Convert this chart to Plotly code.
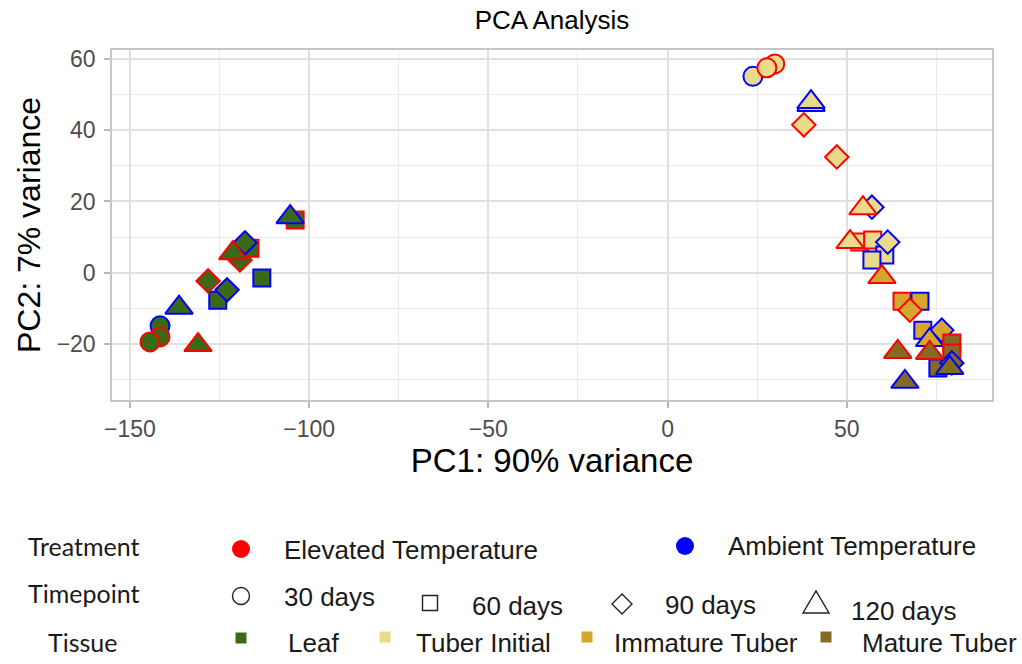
import plotly.graph_objects as go

# ---------------- data ----------------
pc1 = [-141.6, -141.6, -144.4, -103.9, -116.5, -113.2, -125.5, -119.3, -128.2, -117.9, -122.9,
       -121.3, -131.0, -105.3, -136.3,
       23.8, 29.9, 27.7, 53.6, 57.2, 60.6, 57.0, 38.0, 47.2, 57.0, 61.4, 54.5, 50.9, 40.0, 40.0,
       65.4, 70.4, 71.2, 67.6, 76.5, 59.8, 73.1,
       75.4, 79.3, 79.3, 79.3, 64.2, 73.1, 78.7, 66.2]
pc2 = [-14.9, -18.0, -19.4, 14.8, 6.9, -1.5, -7.7, 3.6, -2.3, 8.4, -4.8,
       5.5, -20.3, 15.6, -9.8,
       55.1, 58.6, 57.5, 8.6, 9.2, 5.0, 3.6, 41.5, 32.5, 18.4, 8.6, 18.1, 8.6, 47.1, 47.9,
       -8.0, -8.0, -16.1, -10.5, -16.1, -1.2, -18.9,
       -26.7, -19.7, -22.5, -25.3, -22.2, -22.5, -26.7, -30.6]
treatment = ["Ambient", "Elevated", "Elevated", "Elevated", "Elevated", "Ambient", "Ambient",
             "Elevated", "Elevated", "Ambient", "Ambient", "Elevated", "Elevated", "Ambient", "Ambient",
             "Ambient", "Elevated", "Elevated", "Elevated", "Elevated", "Ambient", "Ambient",
             "Elevated", "Elevated", "Ambient", "Ambient", "Elevated", "Elevated", "Ambient", "Ambient",
             "Elevated", "Ambient", "Ambient", "Elevated", "Ambient", "Elevated", "Ambient",
             "Ambient", "Elevated", "Elevated", "Ambient", "Elevated", "Elevated", "Ambient", "Ambient"]
timepoint = ["30", "30", "30", "60", "60", "60", "60", "90", "90", "90", "90", "120", "120", "120", "120",
             "30", "30", "30", "60", "60", "60", "60", "90", "90", "90", "90", "120", "120", "120", "120",
             "60", "60", "60", "90", "90", "120", "120",
             "60", "60", "60", "90", "120", "120", "120", "120"]
tissue = (["Leaf"] * 15 + ["Tuber Initial"] * 15 + ["Immature Tuber"] * 7 + ["Mature Tuber"] * 8)

title_text = "PCA Analysis"
x_title = "PC1: 90% variance"
y_title = "PC2: 7% variance"
x_ticks = [-150, -100, -50, 0, 50]
y_ticks = [-20, 0, 20, 40, 60]

treat_labels = ["Elevated Temperature", "Ambient Temperature"]
time_labels = ["30 days", "60 days", "90 days", "120 days"]
tissue_labels = ["Leaf", "Tuber Initial", "Immature Tuber", "Mature Tuber"]

# ---------------- styles ----------------
edge_map = {"Elevated": "#ff0000", "Ambient": "#0000ff"}
fill_map = {"Leaf": "#3b6a16", "Tuber Initial": "#eadb8c",
            "Immature Tuber": "#d6a72e", "Mature Tuber": "#846a22"}
symbol_map = {"30": "circle", "60": "square", "90": "diamond", "120": "triangle-up"}
size_map = {"30": 19, "60": 17, "90": 18, "120": 24}

fig = go.Figure()
fig.add_trace(go.Scatter(
    x=pc1, y=pc2, mode="markers", showlegend=False,
    marker=dict(
        symbol=[symbol_map[t] for t in timepoint],
        size=[size_map[t] for t in timepoint],
        color=[fill_map[t] for t in tissue],
        line=dict(color=[edge_map[t] for t in treatment], width=2),
        opacity=1,
    ),
))

L, R, T, B = 112, 992, 50, 400
W, H = 1022, 664


def pxx(x):
    return (x - L) / (R - L)


def pxy(y):
    return (B - y) / (B - T)


grid = "#e0e0e0"
axis_common = dict(
    showline=True, mirror=True, linecolor="#c6c6c6", linewidth=1.5,
    showgrid=True, gridcolor=grid, gridwidth=1.6,
    zeroline=False, ticks="outside", ticklen=6, tickcolor="#b8b8b8", tickwidth=1.5,
    tickfont=dict(family="Liberation Sans, Arial, sans-serif", size=23, color="#4d4d4d"),
)

fig.update_xaxes(
    range=[-155.0, 90.5], tickvals=x_ticks,
    minor=dict(dtick=25, tick0=0, showgrid=True, gridcolor="#eaeaea", gridwidth=1.2, ticks=""),
    title=dict(text=x_title, font=dict(family="Liberation Sans, Arial, sans-serif", size=33, color="black"),
               standoff=6),
    ticklabelstandoff=2,
    **axis_common,
)
fig.update_yaxes(
    range=[-35.7, 62.5], tickvals=y_ticks,
    minor=dict(dtick=10, tick0=0, showgrid=True, gridcolor="#eaeaea", gridwidth=1.2, ticks=""),
    title=dict(text=y_title, font=dict(family="Liberation Sans, Arial, sans-serif", size=32, color="black"),
               standoff=6),
    ticklabelstandoff=4,
    **axis_common,
)

# ---------------- custom legend ----------------
shapes = []
annots = []
lab_font = dict(family="Liberation Sans, Arial, sans-serif", size=26, color="#1a1a1a")
head_font = dict(family="Lato, Liberation Sans, sans-serif", size=25, color="#1a1a1a")


def text(x, y, s, font):
    annots.append(dict(x=pxx(x), y=pxy(y), xref="paper", yref="paper", text=s, showarrow=False,
                       xanchor="left", yanchor="middle", font=font))


def pshape(x, y, **kw):
    d = dict(xref="paper", yref="paper", xsizemode="pixel", ysizemode="pixel",
             xanchor=pxx(x), yanchor=pxy(y))
    d.update(kw)
    shapes.append(d)


# headings
text(26, 546, "Treatment", head_font)
text(26, 593, "Timepoint", head_font)
text(46, 642, "Tissue", head_font)

# treatment row
treat_pos = [(241, 549, 282, 550), (685, 546, 726, 546)]
treat_cols = [edge_map["Elevated"], edge_map["Ambient"]]
for (mx, my, tx, ty), lab, col in zip(treat_pos, treat_labels, treat_cols):
    pshape(mx, my, type="circle", x0=-9, x1=9, y0=-9, y1=9, fillcolor=col, line=dict(width=0))
    text(tx, ty, lab, lab_font)

# timepoint row
blk = dict(color="#222222", width=1.4)
pshape(241, 596, type="circle", x0=-8.5, x1=8.5, y0=-8.5, y1=8.5, line=blk)
pshape(430, 603, type="rect", x0=-7.5, x1=7.5, y0=-7.5, y1=7.5, line=blk)
pshape(622, 604, type="path", path="M0,10 L10,0 L0,-10 L-10,0 Z", line=blk)
pshape(816, 604, type="path", path="M-13,-9 L13,-9 L0,13 Z", line=blk)
time_text_pos = [(282, 597), (470, 606), (663, 605), (849, 611)]
for (tx, ty), lab in zip(time_text_pos, time_labels):
    text(tx, ty, lab, lab_font)

# tissue row
tissue_pos = [(241, 638, 286, 643), (385, 637, 414, 643), (587, 637, 612, 643), (826, 637, 860, 643)]
for (mx, my, tx, ty), lab in zip(tissue_pos, tissue_labels):
    pshape(mx, my, type="rect", x0=-5.5, x1=5.5, y0=-5.5, y1=5.5, fillcolor=fill_map[lab],
           line=dict(width=0))
    text(tx, ty, lab, lab_font)

fig.update_layout(
    width=W, height=H,
    margin=dict(l=L, r=W - R, t=T, b=H - B, pad=0),
    paper_bgcolor="white", plot_bgcolor="white",
    title=dict(text=title_text, x=(L + R) / 2 / W, xanchor="center", y=1 - 20 / H, yanchor="middle",
               font=dict(family="Liberation Sans, Arial, sans-serif", size=26, color="black")),
    shapes=shapes, annotations=annots,
    showlegend=False,
)

fig.write_html("out.html")
